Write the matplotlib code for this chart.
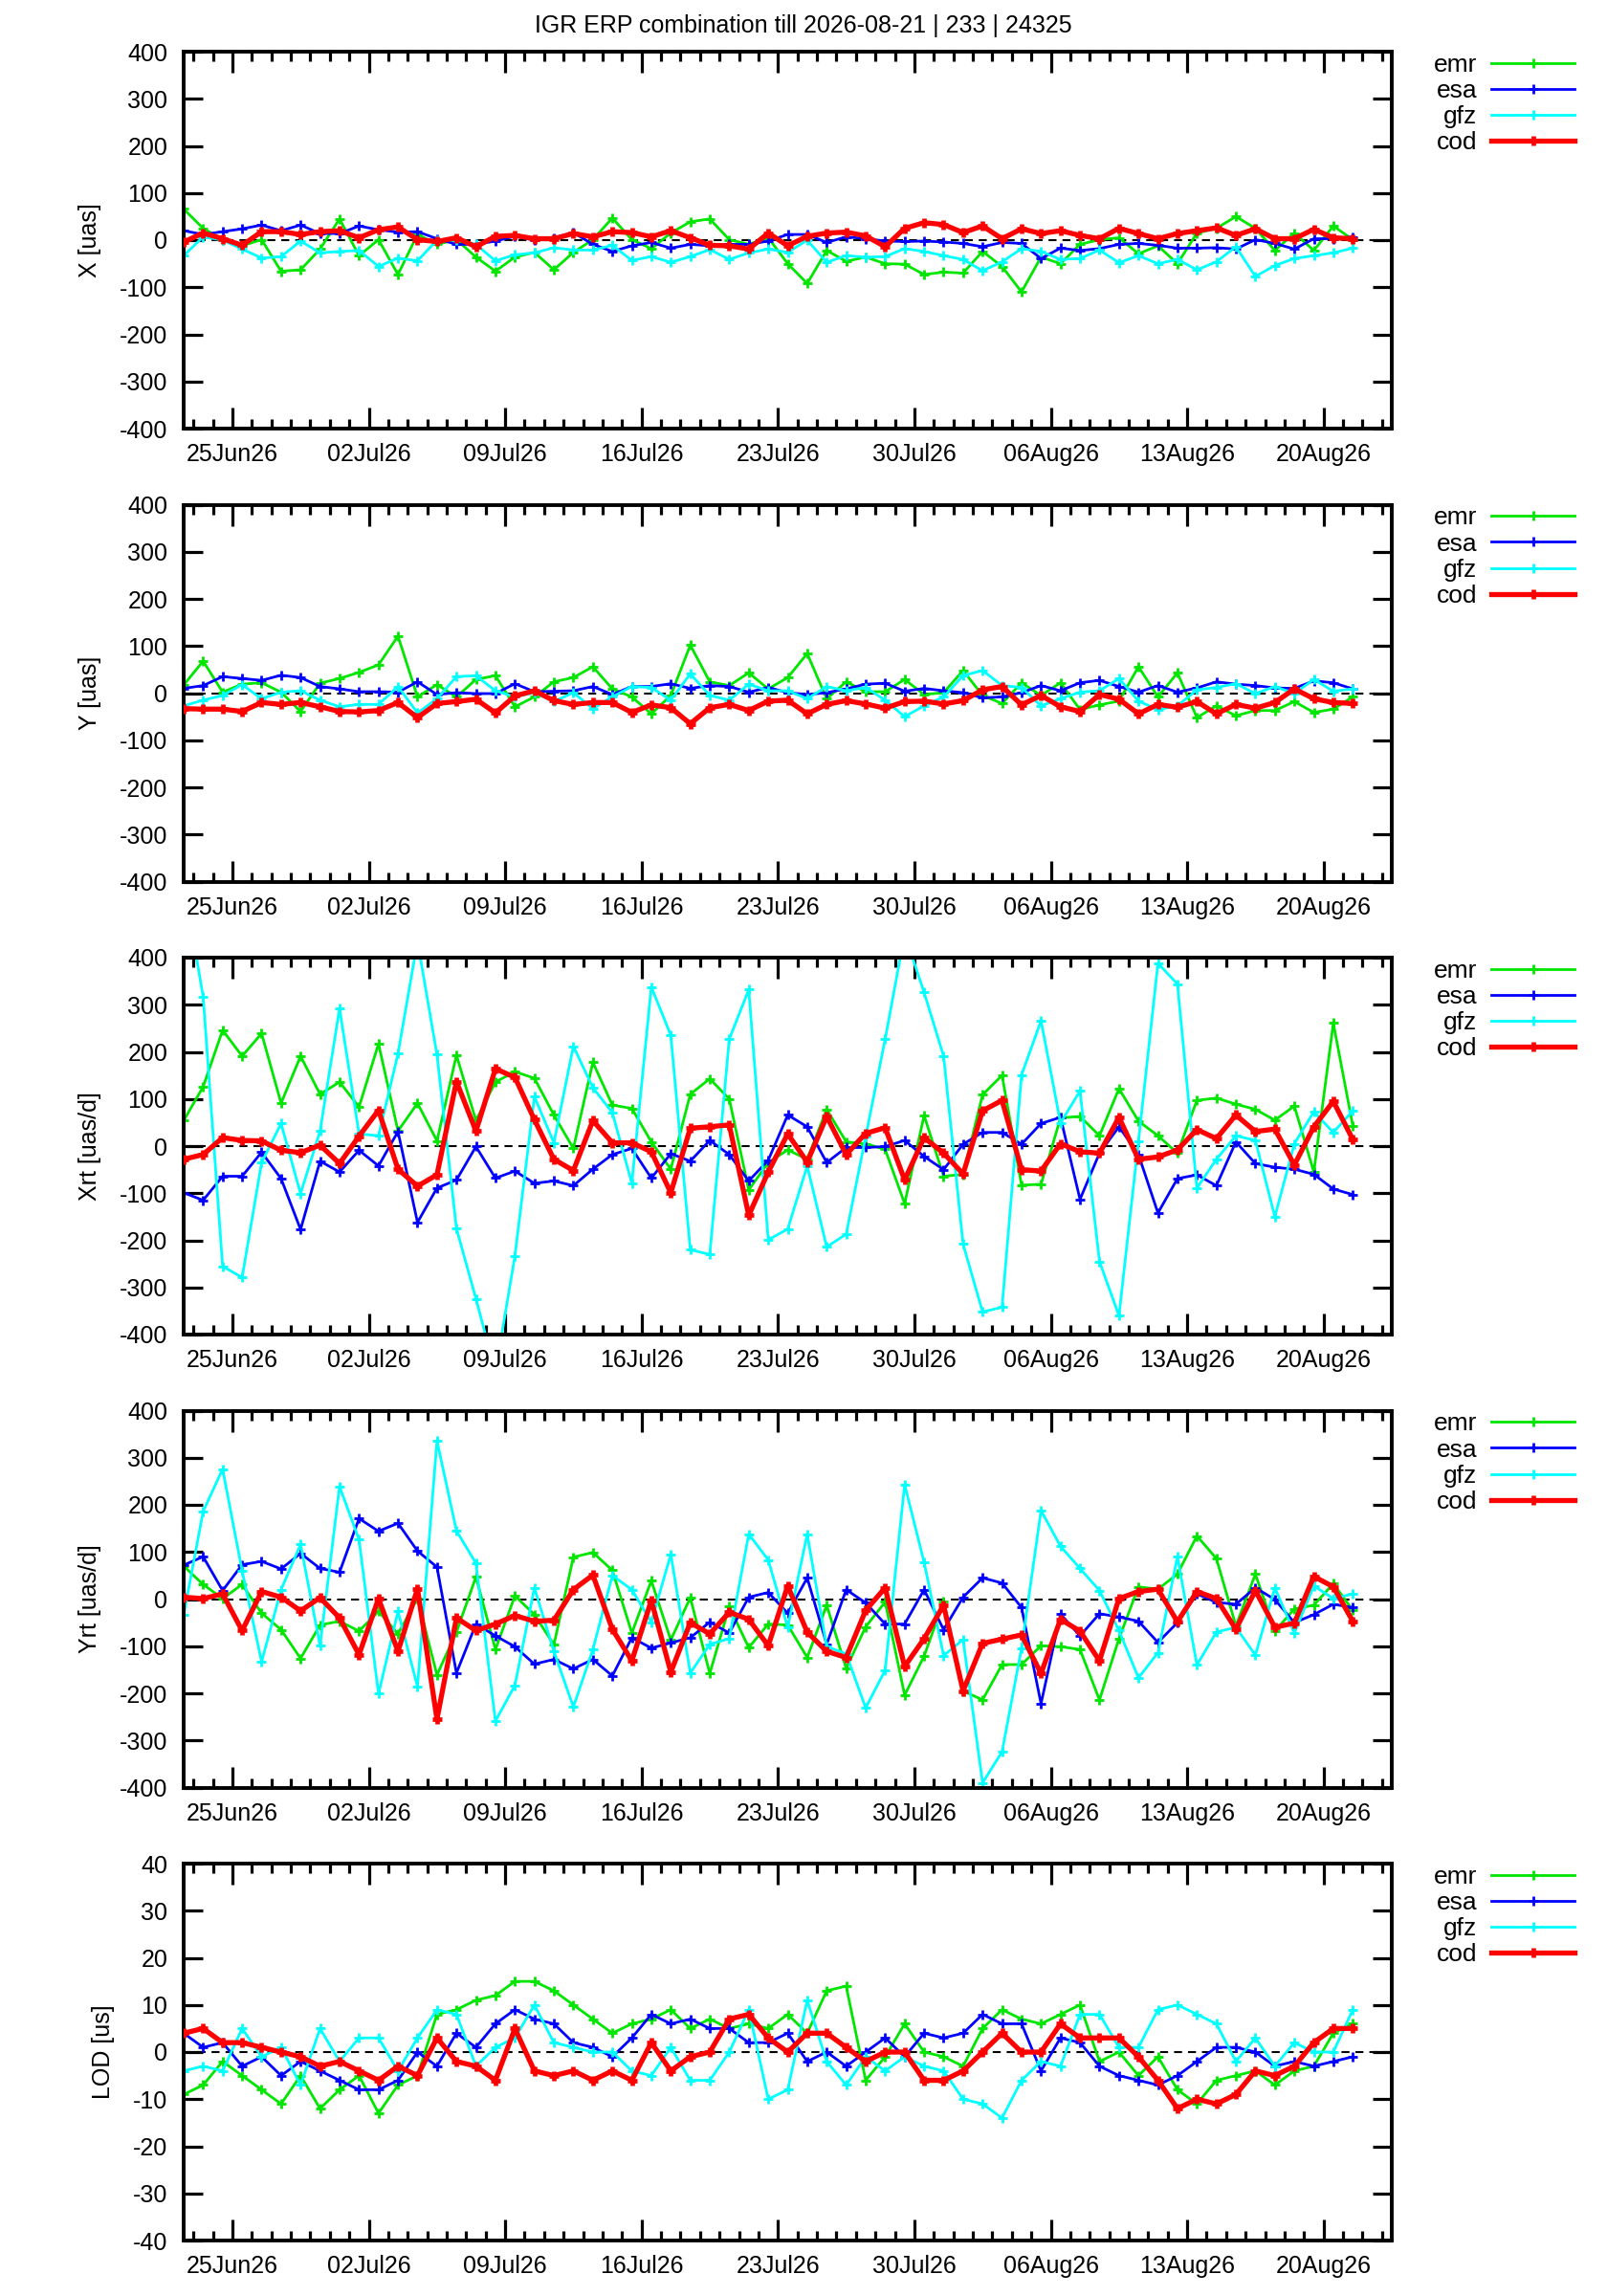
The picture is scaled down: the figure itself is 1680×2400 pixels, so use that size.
import datetime as dt
import matplotlib
matplotlib.use("Agg")
import matplotlib.pyplot as plt
import matplotlib.dates as mdates
from matplotlib.ticker import MultipleLocator

plt.rcParams['font.family'] = ['Liberation Sans', 'DejaVu Sans']
plt.rcParams['font.size'] = 18
plt.rcParams['axes.unicode_minus'] = False

# daily solutions at noon, 2026-06-22 .. 2026-08-21
days = [dt.datetime(2026, 6, 22, 12) + dt.timedelta(days=k) for k in range(61)]
centres = ['emr', 'esa', 'gfz', 'cod']
colours = {'emr': '#00e600', 'esa': '#0000ff', 'gfz': '#00ffff', 'cod': '#ff0000'}

x_emr = [66, 25, 1, -12, 1, -66, -63, -19, 45, -33, 1, -73, 12, -9, 1, -36, -66, -36, -26, -63,
         -26, 1, 47, 1, -18, 15, 39, 45, 1, -9, 5, -50, -92, -22, -45, -36, -50, -51, -73, -68,
         -70, -24, -56, -110, -36, -50, -9, 1, 5, -29, -12, -50, 15, 25, 50, 25, -22, 15, -22, 30, 1]
x_esa = [20, 12, 18, 24, 32, 20, 32, 14, 14, 30, 22, 17, 18, 3, -9, -9, -2, 8, 0, 5,
         16, -9, -24, -12, -5, -17, -9, -12, -9, -9, -2, 12, 12, -5, 7, 3, -2, -3, -2, -4,
         -7, -14, -5, -7, -39, -17, -22, -18, -9, -7, -11, -17, -17, -16, -19, 1, -7, -19, 3, 3, 7]
x_gfz = [-33, 7, 0, -19, -38, -35, -2, -27, -24, -22, -56, -38, -44, 0, 0, -9, -44, -31, -27, -16,
         -21, -21, -11, -43, -35, -47, -35, -20, -41, -27, -19, -26, 0, -47, -33, -36, -35, -18, -24, -33,
         -41, -65, -46, -18, -24, -41, -39, -21, -48, -33, -50, -41, -63, -46, -14, -77, -54, -39, -33, -27, -17]
x_cod = [-4, 15, 3, -11, 18, 18, 12, 18, 20, 5, 22, 28, 1, -3, 5, -14, 8, 10, 3, 3,
         14, 7, 18, 16, 7, 20, 5, -11, -12, -19, 15, -12, 8, 15, 17, 9, -14, 25, 37, 33,
         16, 30, 3, 24, 14, 20, 10, 3, 25, 14, 3, 14, 20, 26, 10, 24, 3, 3, 23, 5, 3]

y_emr = [17, 68, 2, 19, 22, 2, -39, 21, 31, 44, 60, 121, -8, 18, -8, 29, 37, -29, -8, 24,
         33, 56, 9, -8, -44, -5, 102, 24, 16, 43, 9, 33, 84, -12, 24, 3, 3, 29, -3, 1,
         48, -5, -22, 22, -5, 22, -35, -25, -17, 56, -8, 43, -52, -27, -48, -37, -37, -18, -41, -34, -8]
y_esa = [10, 16, 35, 31, 27, 38, 33, 14, 9, 3, 3, 2, 24, -3, 1, -1, -1, 20, 3, 4,
         5, 14, -3, 14, 14, 20, 10, 16, 14, 2, 12, 1, -3, 1, 9, 19, 21, 4, 10, 5,
         1, -10, -8, 1, 16, 5, 22, 27, 14, 2, 16, 2, 11, 24, 19, 16, 11, 10, 26, 22, 9]
y_gfz = [-27, -15, -5, 18, -12, 2, 5, -15, -29, -24, -24, 14, -42, -12, 35, 37, 5, -8, 1, -18,
         1, -33, -8, 14, 12, -15, 41, -5, -15, 19, 5, 5, -12, 14, 5, 12, -15, -50, -27, -8,
         37, 48, 16, 12, -27, -12, 2, 5, 31, -17, -35, -27, 7, 12, 20, -1, 14, -1, 29, 4, 9]
y_cod = [-33, -34, -34, -39, -20, -24, -20, -29, -39, -40, -37, -20, -52, -22, -18, -13, -42, -6, 5, -16,
         -24, -20, -20, -41, -25, -31, -65, -31, -24, -37, -17, -15, -44, -24, -16, -23, -32, -18, -17, -23,
         -16, 7, 14, -25, -5, -29, -39, -3, -13, -44, -24, -30, -18, -44, -24, -32, -20, 9, -12, -20, -22]

xrt_emr = [54, 126, 246, 191, 239, 91, 191, 110, 136, 83, 217, 32, 91, 11, 193, 54, 136, 158, 144, 66,
           -5, 178, 87, 80, 9, -49, 110, 143, 100, -93, -35, -8, -28, 78, 9, 5, -7, -122, 65, -64,
           -60, 109, 150, -83, -81, 60, 63, 22, 122, 53, 22, -15, 97, 102, 89, 78, 55, 85, -55, 261, 43]
xrt_esa = [-99, -115, -64, -64, -13, -69, -177, -32, -55, -9, -42, 31, -162, -89, -72, -1, -68, -53, -79, -74,
           -84, -49, -18, -5, -68, -16, -32, 12, -18, -74, -30, 66, 41, -35, -3, -3, -1, 12, -22, -50,
           4, 29, 29, 4, 48, 61, -113, -15, 41, -18, -142, -69, -61, -84, 9, -37, -45, -49, -60, -91, -103]
xrt_gfz = [560, 317, -255, -279, -35, 48, -101, 32, 292, 26, 22, 196, 435, 194, -175, -324, -480, -233, 105, 7,
           212, 124, 71, -79, 338, 235, -220, -230, 227, 332, -199, -176, -42, -214, -187, 20, 227, 450, 326, 191,
           -208, -352, -342, 151, 266, 49, 117, -245, -360, 10, 388, 344, -89, -28, 22, 12, -150, 5, 73, 29, 75]
xrt_cod = [-28, -18, 18, 12, 11, -9, -14, 2, -37, 21, 76, -49, -85, -61, 137, 32, 164, 146, 56, -28,
           -52, 54, 7, 7, -12, -99, 38, 41, 45, -147, -55, 26, -34, 63, -18, 27, 39, -72, 18, -15,
           -59, 75, 97, -50, -53, 5, -12, -15, 61, -28, -23, -8, 35, 16, 66, 31, 36, -40, 41, 95, 14]

yrt_emr = [70, 31, 1, 31, -30, -65, -126, -55, -47, -68, -26, -74, 1, -161, -70, 47, -107, 7, -33, -97,
           89, 99, 61, -72, 39, -87, 3, -158, -16, -103, -53, -55, -124, -13, -147, -59, -6, -204, -121, -5,
           -195, -214, -139, -139, -99, -101, -107, -214, -84, 26, 21, 53, 134, 86, -57, 53, -68, -21, -13, 33, -24]
yrt_esa = [72, 90, 18, 73, 80, 64, 97, 65, 57, 171, 144, 161, 102, 68, -157, -53, -78, -101, -138, -128,
           -148, -128, -163, -82, -104, -93, -82, -49, -72, 4, 14, -30, 45, -96, 20, -8, -53, -53, 20, -65,
           4, 45, 34, -18, -222, -32, -78, -31, -38, -47, -92, -50, 11, -7, -11, 24, -1, -50, -33, -11, -18]
yrt_gfz = [-34, 186, 276, 60, -133, 20, 116, -99, 239, 126, -201, -26, -186, 336, 145, 76, -259, -183, 24, -111,
           -229, -107, 50, 20, -49, 95, -157, -96, -84, 138, 83, -60, 138, -101, -116, -231, -151, 243, 78, -120,
           -86, -390, -324, -104, 188, 112, 65, 18, -67, -167, -114, 90, -140, -70, -60, -119, 24, -72, 28, 1, 11]
yrt_cod = [4, 1, 11, -67, 16, 4, -25, 3, -40, -118, 1, -111, 22, -255, -40, -67, -53, -35, -47, -45,
           20, 51, -64, -131, -3, -155, -50, -74, -28, -43, -99, 28, -70, -111, -124, -24, 24, -143, -84, -13,
           -195, -94, -85, -76, -158, -43, -68, -131, 1, 16, 21, -48, 16, 1, -64, 18, -60, -51, 48, 26, -47]

lod_emr = [-9, -7, -2, -5, -8, -11, -5, -12, -8, -5, -13, -7, -5, 8, 9, 11, 12, 15, 15, 13,
           10, 7, 4, 6, 7, 9, 5, 7, 5, 6, 5, 8, 4, 13, 14, -6, -1, 6, 0, -1,
           -3, 5, 9, 7, 6, 8, 10, -2, 0, -5, -1, -8, -11, -6, -5, -4, -7, -4, -3, 4, 6]
lod_esa = [4, 1, 2, -3, -1, -5, -2, -4, -6, -8, -8, -6, 0, -3, 4, 1, 6, 9, 7, 6,
           2, 1, -1, 3, 8, 6, 7, 5, 5, 2, 2, 4, -2, 0, -3, 0, 3, -1, 4, 3,
           4, 8, 6, 6, -4, 3, 2, -3, -5, -6, -7, -5, -2, 1, 1, 0, -3, -2, -3, -2, -1]
lod_gfz = [-4, -3, -4, 5, -1, 1, -7, 5, -2, 3, 3, -4, 3, 9, 8, -3, 1, 3, 10, 2,
           1, 0, 0, -4, -5, 1, -6, -6, 0, 9, -10, -8, 11, -2, -7, -1, -4, -1, -3, -4,
           -10, -11, -14, -6, -2, -3, 8, 8, 1, 1, 9, 10, 8, 6, -2, 3, -3, 2, 0, 0, 9]
lod_cod = [4, 5, 2, 2, 1, 0, -1, -3, -2, -4, -6, -3, -5, 3, -2, -3, -6, 5, -4, -5,
           -4, -6, -4, -6, 2, -4, -1, 0, 7, 8, 3, 0, 4, 4, 1, -2, 0, 0, -6, -6,
           -4, 0, 4, 0, 0, 6, 3, 3, 3, -1, -6, -12, -10, -11, -9, -4, -5, -3, 2, 5, 5]

panels = [
    ('X [uas]', 400, 100, [x_emr, x_esa, x_gfz, x_cod]),
    ('Y [uas]', 400, 100, [y_emr, y_esa, y_gfz, y_cod]),
    ('Xrt [uas/d]', 400, 100, [xrt_emr, xrt_esa, xrt_gfz, xrt_cod]),
    ('Yrt [uas/d]', 400, 100, [yrt_emr, yrt_esa, yrt_gfz, yrt_cod]),
    ('LOD [us]', 40, 10, [lod_emr, lod_esa, lod_gfz, lod_cod]),
]

W, H = 1680, 2400
fig = plt.figure(figsize=(W / 100, H / 100), dpi=100)

for i, (label, lim, step, series) in enumerate(panels):
    top = 54 + 473.5 * i
    ax = fig.add_axes([192 / W, 1 - (top + 394) / H, 1263 / W, 394 / H])

    ax.axhline(0, color='black', lw=1.5, ls=(0, (4, 3)), zorder=1)
    for name, vals in zip(centres, series):
        if name == 'cod':
            ax.plot(days, vals, color=colours[name], lw=3.8, marker='+', ms=7, mew=3.4, label=name, zorder=3)
        else:
            ax.plot(days, vals, color=colours[name], lw=2.0, marker='+', ms=6.5, mew=2.0, label=name, zorder=2)

    ax.set_xlim(dt.datetime(2026, 6, 22, 12), dt.datetime(2026, 8, 23, 12))
    ax.set_ylim(-lim, lim)
    ax.yaxis.set_major_locator(MultipleLocator(step))
    ax.xaxis.set_major_locator(mdates.WeekdayLocator(byweekday=mdates.TH))
    ax.xaxis.set_minor_locator(mdates.DayLocator())
    ax.xaxis.set_major_formatter(mdates.DateFormatter('%d%b%y'))

    for s in ax.spines.values():
        s.set_linewidth(2.8)
    ax.tick_params(axis='x', which='major', direction='in', length=15.5, width=2.3, top=True, pad=11)
    ax.tick_params(axis='x', which='minor', direction='in', length=7.2, width=2.3, top=True)
    ax.tick_params(axis='y', which='major', direction='in', length=14.4, width=2.3, right=True, pad=12)

    ax.set_ylabel(label, labelpad=14)
    ax.legend(loc='upper left', bbox_to_anchor=(1.035, 0.995), frameon=False, markerfirst=False,
              fontsize=19, handlelength=3.3, handletextpad=0.55, labelspacing=0.12,
              borderpad=0, borderaxespad=0)

fig.text(0.5, 1 - 27 / H, 'IGR ERP combination till 2026-08-21 | 233 | 24325', ha='center', va='center')

fig.savefig('out.png', dpi=100)
